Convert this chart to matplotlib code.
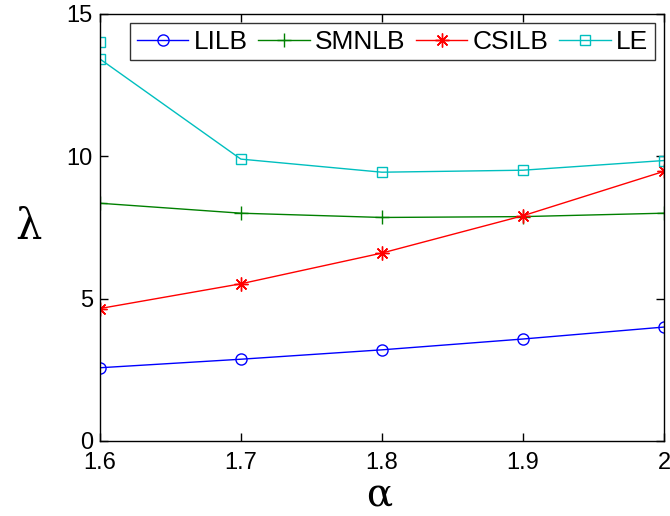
import matplotlib
matplotlib.use("Agg")
import matplotlib.pyplot as plt

plt.rcParams['font.family'] = ['Liberation Sans', 'DejaVu Sans']

alpha = [1.6, 1.7, 1.8, 1.9, 2.0]
lilb = [2.57, 2.87, 3.20, 3.58, 4.00]
smnlb = [8.35, 8.00, 7.85, 7.88, 8.00]
csilb = [4.65, 5.52, 6.60, 7.91, 9.47]
# LE has two runs at alpha = 1.6
alpha_le = [1.6, 1.6, 1.7, 1.8, 1.9, 2.0]
le = [14.00, 13.42, 9.90, 9.44, 9.51, 9.85]

fig = plt.figure(figsize=(6.7, 5.16), dpi=100)
ax = fig.add_axes([0.149, 0.1455, 0.842, 0.8275])

ax.plot(alpha, lilb, '-o', color='#0000ff', lw=1, ms=8, mfc='none', mew=1, label='LILB')
ax.plot(alpha, smnlb, '-+', color='#008000', lw=1, ms=10, mew=1, label='SMNLB')
ax.plot(alpha, csilb, '-', marker=(8, 2, 0), color='#ff0000', lw=1, ms=10, mew=1,
        label='CSILB')
ax.plot(alpha_le, le, '-s', color='#00bfbf', lw=1, ms=7, mfc='none', mew=1, label='LE')

ax.set_xlim(1.6, 2.0)
ax.set_ylim(0, 15)
ax.set_xticks([1.6, 1.7, 1.8, 1.9, 2.0])
ax.set_xticklabels(['1.6', '1.7', '1.8', '1.9', '2'])
ax.set_yticks([0, 5, 10, 15])
ax.tick_params(direction='in', length=6, width=1, top=True, right=True,
               labelsize=17)
ax.tick_params(axis='x', pad=8)
ax.tick_params(axis='y', pad=5)
for s in ax.spines.values():
    s.set_linewidth(1)

ax.set_xlabel('α', fontsize=28, family='DejaVu Serif', va='center')
ax.xaxis.set_label_coords(0.495, -0.128)
ax.set_ylabel('λ', fontsize=30, family='DejaVu Serif', rotation=0,
              ha='center', va='center')
ax.yaxis.set_label_coords(-0.126, 0.50)

leg = ax.legend(loc='upper right', ncol=4, fontsize=19, frameon=True,
                fancybox=False, edgecolor='black', handlelength=1.95,
                handletextpad=0.2, columnspacing=0.4, borderpad=0.25,
                borderaxespad=0.35)
leg.get_frame().set_linewidth(1)

fig.savefig('out.png', dpi=100)
